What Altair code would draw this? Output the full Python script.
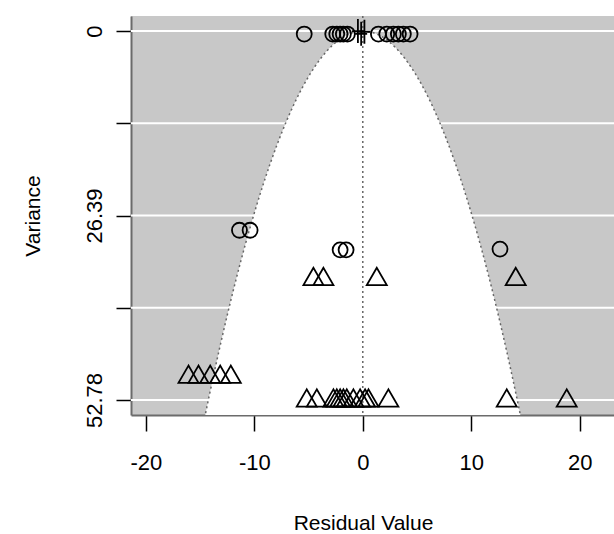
import altair as alt
import numpy as np
import pandas as pd

# ---- data ----
circle_x = [-5.4, -2.77, -2.4, -2.09, -1.79, -1.42, 1.44, 2.21, 2.82, 3.28, 3.74, 4.36,
            -11.37, -10.39, -2.09, -1.54, 12.65]
circle_v = [0.43, 0.43, 0.43, 0.43, 0.43, 0.43, 0.43, 0.43, 0.43, 0.43, 0.43, 0.43,
            28.5, 28.5, 31.3, 31.3, 31.2]

tri_x = [-4.55, -3.63, 1.29, 14.1,
         -16.07, -15.15, -14.07, -13.15, -12.17,
         -5.17, -4.24, -2.71, -2.40, -2.09, -1.79, -1.48, -0.87, -0.25, 0.21, 0.52, 2.36, 13.27, 18.8]
tri_v = [35.1, 35.1, 35.1, 35.1,
         49.1, 49.1, 49.1, 49.1, 49.1,
         52.5, 52.5, 52.5, 52.5, 52.5, 52.5, 52.5, 52.5, 52.5, 52.5, 52.5, 52.5, 52.5, 52.5]

plus_x = [-0.45, -0.15, 0.15]
plus_v = [0.0, 0.4, 0.1]

y_ticks = [0, 13.195, 26.39, 39.585, 52.78]
y_tick_labels = ["0", "", "26.39", "", "52.78"]
x_ticks = [-20, -10, 0, 10, 20]

x_domain = [-21.37, 23.16]
y_domain = [-2.15, 54.93]
z_crit = 1.96

# ---- derived tables ----
pts_c = pd.DataFrame({"x": circle_x, "v": circle_v})
pts_t = pd.DataFrame({"x": tri_x, "v": tri_v})
pts_p = pd.DataFrame({"x": plus_x, "v": plus_v})
grid_df = pd.DataFrame({"t": y_ticks})
vi_grid = np.linspace(0, y_domain[1], 300)
funnel = pd.DataFrame({"vi": vi_grid,
                       "lo": -z_crit * np.sqrt(vi_grid),
                       "hi": z_crit * np.sqrt(vi_grid)})
edges = pd.concat([
    pd.DataFrame({"vi": vi_grid, "xv": -z_crit * np.sqrt(vi_grid), "side": "lo"}),
    pd.DataFrame({"vi": vi_grid, "xv": z_crit * np.sqrt(vi_grid), "side": "hi"}),
])
zero_df = pd.DataFrame({"x0": [0]})

FONT = "Liberation Sans"
label_cases = " : ".join(
    f"abs(datum.value - {t}) < 0.01 ? '{l}'" for t, l in zip(y_ticks, y_tick_labels)) + " : ''"

xscale = alt.Scale(domain=x_domain, nice=False, zero=False)
yscale = alt.Scale(domain=y_domain, nice=False, zero=False, reverse=True)

xaxis = alt.Axis(values=x_ticks, labelExpr="'' + datum.value", grid=False,
                 tickSize=16, tickWidth=1.5, tickColor="black",
                 domainColor="#6b6b6b", domainWidth=2,
                 labelFont=FONT, labelFontSize=22, labelColor="black", labelPadding=21,
                 labelFlush=False, labelOverlap=False,
                 titleFont=FONT, titleFontSize=21, titleFontWeight="normal", titleColor="black",
                 titleX=232, titleY=114, titleBaseline="alphabetic", titleAlign="center")

yaxis = alt.Axis(values=y_ticks, labelExpr=label_cases,
                 grid=False, tickSize=15, tickWidth=1.5, tickColor="black",
                 domainColor="#6b6b6b", domainWidth=2,
                 labelFont=FONT, labelFontSize=22, labelColor="black", labelPadding=15,
                 labelAngle=270, labelAlign="center", labelBaseline="alphabetic",
                 labelFlush=False, labelOverlap=False,
                 titleFont=FONT, titleFontSize=21, titleFontWeight="normal", titleColor="black",
                 titleAngle=270, titleX=-92, titleBaseline="alphabetic", titleAlign="center")


def X(field):
    return alt.X(field, type="quantitative", scale=xscale, axis=xaxis, title="Residual Value")


def Y(field):
    return alt.Y(field, type="quantitative", scale=yscale, axis=yaxis, title="Variance")


grid = alt.Chart(grid_df).mark_rule(color="white", strokeWidth=2).encode(y=Y("t"))

area = alt.Chart(funnel).mark_area(orient="horizontal", color="white", opacity=1).encode(
    y=Y("vi"), x=X("lo"), x2="hi")

edge_lines = alt.Chart(edges).mark_line(color="#666666", strokeWidth=1.5, strokeDash=[2, 3]).encode(
    x=X("xv"), y=Y("vi"), detail="side:N", order="vi:Q")

zero_line = alt.Chart(zero_df).mark_rule(color="#666666", strokeWidth=1.5, strokeDash=[2, 3]).encode(
    x=X("x0"))

circles = alt.Chart(pts_c).mark_point(shape="circle", filled=False, size=225, color="black",
                                      strokeWidth=1.8, opacity=1).encode(x=X("x"), y=Y("v"))

triangles = alt.Chart(pts_t).mark_point(shape="triangle-up", filled=False, size=400, color="black",
                                        strokeWidth=1.8, opacity=1).encode(x=X("x"), y=Y("v"))

pluses = alt.Chart(pts_p).mark_point(shape="M-1,0L1,0M0,-2L0,2", filled=False, size=144, color="black",
                                     strokeWidth=1.8, opacity=1).encode(x=X("x"), y=Y("v"))

chart = alt.layer(grid, area, edge_lines, zero_line, circles, triangles, pluses).properties(
    width=483, height=399,
    autosize=alt.AutoSizeParams(type="none"),
    padding={"left": 131, "top": 16, "right": 0, "bottom": 119},
    background="white",
).configure_view(fill="#c8c8c8", stroke=None)

chart.save("out.html", embed_options={"renderer": "svg", "actions": False})
